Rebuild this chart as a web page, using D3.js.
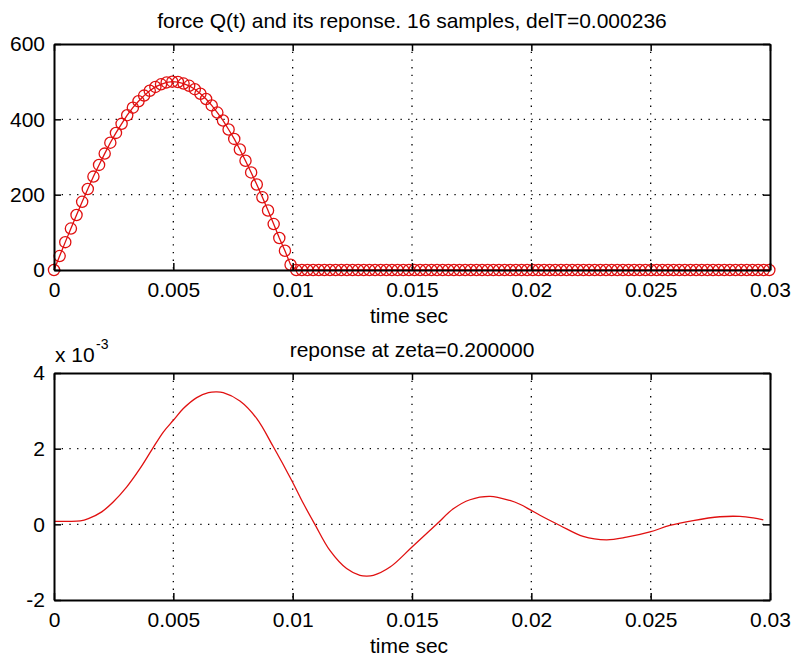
<!DOCTYPE html>
<html>
<head>
<meta charset="utf-8">
<script src="https://cdn.jsdelivr.net/npm/d3@7"></script>
<style>
	body { margin: 0; background: #fff; }
	svg text { font-family: "Liberation Sans", Arial, sans-serif; fill: #000; }
</style>
</head>
<body>
<svg id="chart" width="793" height="658"></svg>
<script>
// ---- data ----
const delT = 0.000236;

// force samples Q(k*delT), k = 0..127
const forceQ = [
	0, 37, 74, 110, 146, 181, 215, 248, 279, 309,
	338, 364, 388, 411, 431, 448, 463, 476, 486, 493,
	498, 500, 499, 495, 489, 480, 468, 454, 437, 418,
	397, 373, 348, 320, 290, 259, 227, 193, 158, 122,
	85, 51, 14, 0, 0, 0, 0, 0, 0, 0,
	0, 0, 0, 0, 0, 0, 0, 0, 0, 0,
	0, 0, 0, 0, 0, 0, 0, 0, 0, 0,
	0, 0, 0, 0, 0, 0, 0, 0, 0, 0,
	0, 0, 0, 0, 0, 0, 0, 0, 0, 0,
	0, 0, 0, 0, 0, 0, 0, 0, 0, 0,
	0, 0, 0, 0, 0, 0, 0, 0, 0, 0,
	0, 0, 0, 0, 0, 0, 0, 0, 0, 0,
	0, 0, 0, 0, 0, 0, 0, 0,
];

// response, time in ms and value in units of 1e-3
const respTime = [
	0, 0.5, 1.1, 1.44, 2.0, 2.48, 3.05, 3.6, 4.09, 4.58,
	5.0, 5.42, 5.98, 6.47, 6.8, 7.09, 7.79, 8.49, 9.19, 9.96,
	10.45, 10.93, 11.56, 12.26, 12.82, 13.1, 13.38, 14.08, 15.0, 16.03,
	16.73, 17.43, 18.27, 19.1, 19.52, 19.94, 20.36, 21.2, 22.17, 23.15,
	23.99, 24.97, 25.8, 26.78, 27.9, 28.74, 29.3, 29.72,
];
const respVal = [
	0.08, 0.08, 0.09, 0.15, 0.33, 0.59, 0.99, 1.47, 1.96, 2.44,
	2.75, 3.06, 3.35, 3.48, 3.5, 3.48, 3.26, 2.8, 2.05, 1.16,
	0.55, 0, -0.69, -1.17, -1.35, -1.37, -1.35, -1.13, -0.6, 0,
	0.41, 0.65, 0.74, 0.63, 0.53, 0.39, 0.24, -0.03, -0.32, -0.41,
	-0.34, -0.2, -0.03, 0.1, 0.2, 0.21, 0.17, 0.12,
];

const xTicks = [0, 0.005, 0.01, 0.015, 0.02, 0.025, 0.03];
const xTickLabels = ["0", "0.005", "0.01", "0.015", "0.02", "0.025", "0.03"];
const forceTicks = [0, 200, 400, 600];
const respTicks = [-2, 0, 2, 4];

const topTitle = "force Q(t) and its reponse. 16 samples, delT=0.000236";
const bottomTitle = "reponse at zeta=0.200000";
const xLabel = "time sec";

// ---- drawing ----
const svg = d3.select("#chart");
const FONT = 21;
const RED = "#e01010";

const x = d3.scaleLinear().domain([0, 0.03]).range([54, 770]);

function drawPanel(cfg) {
	const g = svg.append("g");
	const y = cfg.y;
	const [y0, y1] = y.range();

	// dotted grid
	const grid = g.append("g")
		.attr("stroke", "#000")
		.attr("stroke-width", 1.3)
		.attr("stroke-dasharray", "1.3,6.4");
	grid.selectAll(".gx")
		.data(xTicks.slice(1, -1))
		.join("line")
		.attr("x1", (d) => x(d)).attr("x2", (d) => x(d))
		.attr("y1", y1).attr("y2", y0);
	grid.selectAll(".gy")
		.data(cfg.yTicks.slice(1, -1))
		.join("line")
		.attr("x1", x.range()[0]).attr("x2", x.range()[1])
		.attr("y1", (d) => y(d)).attr("y2", (d) => y(d));

	// data
	cfg.plot(g);

	// frame with inward ticks on all four sides
	const fmt = (d, i) => xTickLabels[i];
	const axes = [
		[d3.axisBottom(x).tickValues(xTicks).tickFormat(fmt).tickPadding(12), `translate(0,${y0})`],
		[d3.axisTop(x).tickValues(xTicks).tickFormat(""), `translate(0,${y1})`],
		[d3.axisLeft(y).tickValues(cfg.yTicks).tickFormat(String).tickPadding(9), `translate(${x.range()[0]},0)`],
		[d3.axisRight(y).tickValues(cfg.yTicks).tickFormat(""), `translate(${x.range()[1]},0)`],
	];
	axes.forEach(([ax, tr]) => {
		const a = g.append("g")
			.attr("transform", tr)
			.call(ax.tickSizeInner(-7).tickSizeOuter(0));
		a.select(".domain").attr("stroke", "#000").attr("stroke-width", 2);
		a.selectAll(".tick line").attr("stroke", "#000").attr("stroke-width", 1.5);
		a.selectAll("text").attr("font-size", FONT).attr("fill", "#000");
	});

	// titles
	const cx = (x.range()[0] + x.range()[1]) / 2;
	g.append("text")
		.attr("x", cx).attr("y", y1 - 16)
		.attr("text-anchor", "middle")
		.attr("font-size", FONT)
		.text(cfg.title);
	g.append("text")
		.attr("x", cx - 3).attr("y", y0 + 53)
		.attr("text-anchor", "middle")
		.attr("font-size", FONT)
		.text(xLabel);
	return g;
}

// top panel: sampled force, line with circle markers
drawPanel({
	y: d3.scaleLinear().domain([0, 600]).range([270, 44]),
	yTicks: forceTicks,
	title: topTitle,
	plot: function (g) {
		const y = this.y;
		const pts = forceQ.map((q, k) => [k * delT, q]);
		g.append("path")
			.datum(pts)
			.attr("fill", "none")
			.attr("stroke", RED)
			.attr("stroke-width", 1.3)
			.attr("d", d3.line().x((d) => x(d[0])).y((d) => y(d[1])));
		g.selectAll(".mk")
			.data(pts)
			.join("circle")
			.attr("cx", (d) => x(d[0]))
			.attr("cy", (d) => y(d[1]))
			.attr("r", 5.6)
			.attr("fill", "none")
			.attr("stroke", RED)
			.attr("stroke-width", 1.3);
	},
});

// bottom panel: response
const bottom = drawPanel({
	y: d3.scaleLinear().domain([-2, 4]).range([600, 373]),
	yTicks: respTicks,
	title: bottomTitle,
	plot: function (g) {
		const y = this.y;
		g.append("path")
			.datum(respTime.map((t, i) => [t / 1000, respVal[i]]))
			.attr("fill", "none")
			.attr("stroke", RED)
			.attr("stroke-width", 1.3)
			.attr("d", d3.line().curve(d3.curveCatmullRom).x((d) => x(d[0])).y((d) => y(d[1])));
	},
});

// exponent label
bottom.append("text")
	.attr("x", 55).attr("y", 362)
	.attr("font-size", FONT)
	.text("x 10");
bottom.append("text")
	.attr("x", 96).attr("y", 349)
	.attr("font-size", 14)
	.text("-3");
</script>
</body>
</html>
